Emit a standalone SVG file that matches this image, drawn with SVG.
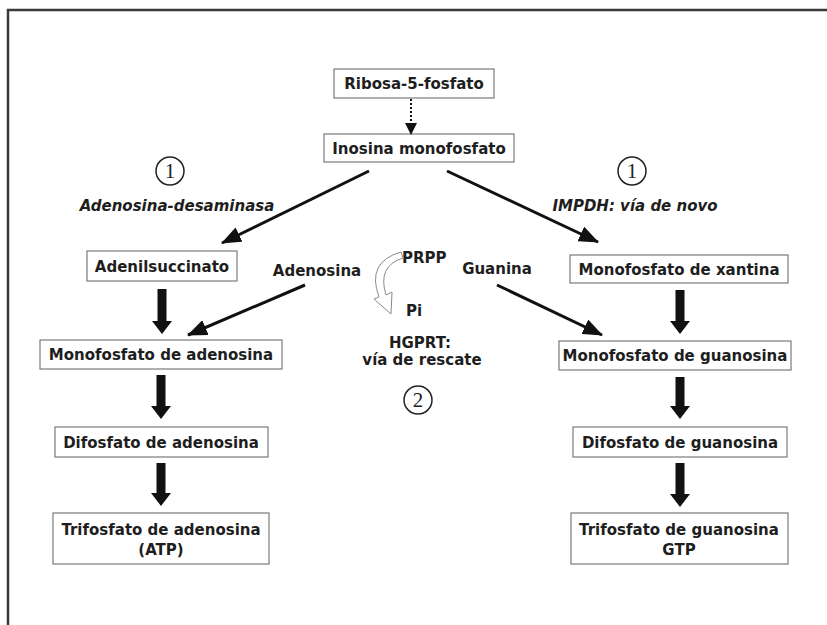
<svg xmlns="http://www.w3.org/2000/svg" width="827" height="625" viewBox="0 0 827 625">
<style>
  .box { fill: #ffffff; stroke: #7a7a7a; stroke-width: 1.2; }
  .t { font-family: "DejaVu Sans", Verdana, sans-serif; font-weight: bold; font-size: 15px; fill: #1e1e1e; text-anchor: middle; }
  .ti { font-family: "DejaVu Sans", Verdana, sans-serif; font-weight: bold; font-style: italic; font-size: 15px; fill: #1e1e1e; text-anchor: middle; }
  .tl { font-family: "DejaVu Sans", Verdana, sans-serif; font-weight: bold; font-size: 15px; fill: #1e1e1e; }
  .num { font-family: "Liberation Serif", "DejaVu Serif", serif; font-size: 21px; fill: #222; text-anchor: middle; }
  .circ { fill: none; stroke: #222; stroke-width: 1.5; }
  .line { stroke: #111; stroke-width: 3; fill: none; }
  .thick { fill: #111; }
  .frame { stroke: #3a3a3a; stroke-width: 2.5; fill: none; }
</style>
<defs>
  <marker id="ah" markerUnits="userSpaceOnUse" markerWidth="20" markerHeight="16" refX="19" refY="8" orient="auto">
    <path d="M0,0 L20,8 L0,16 z" fill="#111"/>
  </marker>
  <marker id="ahs" markerUnits="userSpaceOnUse" markerWidth="12" markerHeight="12" refX="11" refY="6" orient="auto">
    <path d="M0,0 L12,6 L0,12 z" fill="#111"/>
  </marker>
</defs>
<rect width="827" height="625" fill="#ffffff"/>
<path class="frame" d="M8 625 L8 10 L827 10"/>

<g id="ribosa">
  <rect class="box" x="334" y="69" width="160" height="29"/>
  <text class="t" x="414" y="89">Ribosa-5-fosfato</text>
</g>
<g id="inosina">
  <rect class="box" x="324" y="134" width="190" height="28"/>
  <text class="t" x="419" y="154">Inosina monofosfato</text>
</g>
<g id="label-left">
  <circle class="circ" cx="170" cy="171" r="14"/>
  <text class="num" x="170" y="178">1</text>
  <text class="ti" x="177" y="211">Adenosina-desaminasa</text>
</g>
<g id="label-right">
  <circle class="circ" cx="632" cy="171" r="14"/>
  <text class="num" x="632" y="178">1</text>
  <text class="ti" x="635" y="211">IMPDH: vía de novo</text>
</g>
<g id="adenilsuccinato">
  <rect class="box" x="87" y="251" width="150" height="30"/>
  <text class="t" x="162" y="272">Adenilsuccinato</text>
</g>
<g id="adenosina">
  <text class="t" x="317" y="276">Adenosina</text>
</g>
<g id="guanina">
  <text class="t" x="497" y="274">Guanina</text>
</g>
<g id="hgprt">
  <text class="tl" x="402" y="263">PRPP</text>
  <text class="tl" x="406" y="316">Pi</text>
  <path d="M401 252 Q366 262 379 297 L374 299 L391 314 L392 292 L386 295 Q377 266 403 258 Z" fill="#ffffff" stroke="#8a8a8a" stroke-width="1"/>
  <text class="t" x="420" y="348">HGPRT:</text>
  <text class="t" x="422" y="365">vía de rescate</text>
  <circle class="circ" cx="418" cy="400" r="14"/>
  <text class="num" x="418" y="407">2</text>
</g>
<g id="amp">
  <rect class="box" x="40" y="340" width="242" height="29"/>
  <text class="t" x="161" y="360">Monofosfato de adenosina</text>
</g>
<g id="adp">
  <rect class="box" x="55" y="427" width="213" height="30"/>
  <text class="t" x="161" y="448">Difosfato de adenosina</text>
</g>
<g id="atp">
  <rect class="box" x="53" y="513" width="216" height="51"/>
  <text class="t" x="161" y="535">Trifosfato de adenosina</text>
  <text class="t" x="161" y="555">(ATP)</text>
</g>
<g id="xmp">
  <rect class="box" x="570" y="255" width="218" height="28"/>
  <text class="t" x="679" y="275">Monofosfato de xantina</text>
</g>
<g id="gmp">
  <rect class="box" x="559" y="341" width="232" height="29"/>
  <text class="t" x="675" y="361">Monofosfato de guanosina</text>
</g>
<g id="gdp">
  <rect class="box" x="573" y="427" width="214" height="30"/>
  <text class="t" x="680" y="448">Difosfato de guanosina</text>
</g>
<g id="gtp">
  <rect class="box" x="571" y="513" width="217" height="51"/>
  <text class="t" x="679" y="535">Trifosfato de guanosina</text>
  <text class="t" x="679" y="555">GTP</text>
</g>

<g id="connectors">
  <line x1="411" y1="99" x2="411" y2="134" stroke="#111" stroke-width="2" stroke-dasharray="2,2" marker-end="url(#ahs)"/>
  <line class="line" x1="369" y1="171" x2="222" y2="243" marker-end="url(#ah)"/>
  <line class="line" x1="447" y1="171" x2="598" y2="242" marker-end="url(#ah)"/>
  <line class="line" x1="305" y1="285" x2="188" y2="335" marker-end="url(#ah)"/>
  <line class="line" x1="497" y1="285" x2="602" y2="335" marker-end="url(#ah)"/>
  <polygon class="thick" points="157.5,289 166.5,289 166.5,321 172,321 162,334 152,321 157.5,321"/>
  <polygon class="thick" points="156.5,375 165.5,375 165.5,406 171,406 161,419 151,406 156.5,406"/>
  <polygon class="thick" points="156.5,463 165.5,463 165.5,493 171,493 161,506 151,493 156.5,493"/>
  <polygon class="thick" points="675.5,290 684.5,290 684.5,321 690,321 680,334 670,321 675.5,321"/>
  <polygon class="thick" points="675.5,377 684.5,377 684.5,406 690,406 680,419 670,406 675.5,406"/>
  <polygon class="thick" points="675.5,463 684.5,463 684.5,494 690,494 680,507 670,494 675.5,494"/>
</g>
</svg>
